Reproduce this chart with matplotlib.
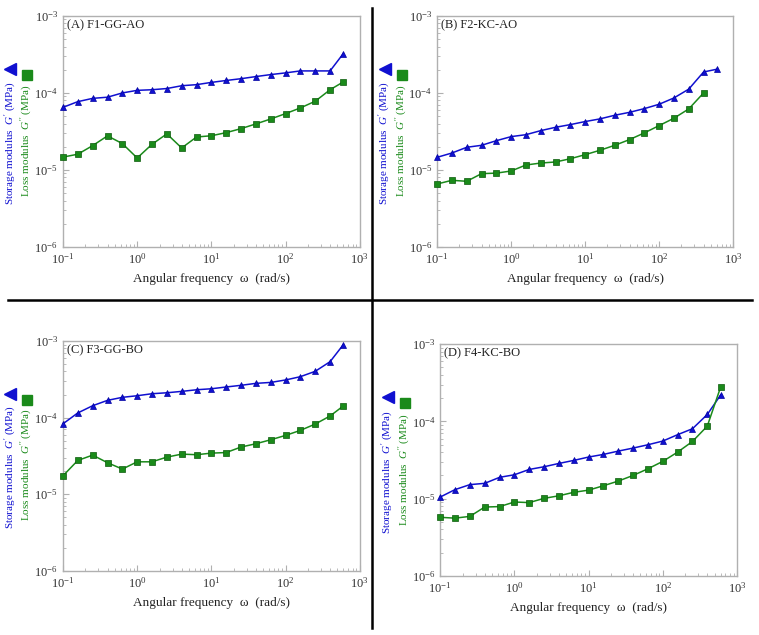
import matplotlib
matplotlib.use('Agg')
import matplotlib.pyplot as plt
from matplotlib.lines import Line2D

plt.rcParams['font.family'] = ['Liberation Serif', 'DejaVu Sans']
plt.rcParams['mathtext.fontset'] = 'custom'
plt.rcParams['mathtext.rm'] = 'Liberation Serif'
plt.rcParams['mathtext.it'] = 'Liberation Serif:italic'

# angular frequency (rad/s)
omega = [0.1, 0.158, 0.251, 0.398, 0.631, 1.0, 1.58, 2.51, 3.98, 6.31,
         10, 15.8, 25.1, 39.8, 63.1, 100, 158, 251, 398, 600]

# (A) F1-GG-AO
a_gp = [6.5e-5, 7.7e-5, 8.5e-5, 8.8e-5, 1.0e-4, 1.08e-4, 1.1e-4, 1.14e-4, 1.24e-4, 1.28e-4,
        1.37e-4, 1.45e-4, 1.53e-4, 1.63e-4, 1.73e-4, 1.82e-4, 1.93e-4, 1.93e-4, 1.93e-4, 3.24e-4]
a_gpp = [1.47e-5, 1.6e-5, 2.07e-5, 2.77e-5, 2.2e-5, 1.43e-5, 2.15e-5, 2.94e-5, 1.93e-5, 2.68e-5,
         2.78e-5, 3.05e-5, 3.44e-5, 3.96e-5, 4.59e-5, 5.39e-5, 6.38e-5, 7.8e-5, 1.1e-4, 1.39e-4]

# (B) F2-KC-AO
b_gp = [1.46e-5, 1.66e-5, 1.97e-5, 2.09e-5, 2.4e-5, 2.71e-5, 2.87e-5, 3.24e-5, 3.58e-5, 3.88e-5,
        4.25e-5, 4.6e-5, 5.13e-5, 5.6e-5, 6.26e-5, 7.13e-5, 8.6e-5, 1.12e-4, 1.87e-4, 2.03e-4]
b_gpp = [6.58e-6, 7.34e-6, 7.13e-6, 8.96e-6, 9.1e-6, 9.7e-6, 1.16e-5, 1.23e-5, 1.27e-5, 1.4e-5,
         1.58e-5, 1.8e-5, 2.09e-5, 2.48e-5, 3.03e-5, 3.77e-5, 4.69e-5, 6.2e-5, 1.0e-4]

# (C) F3-GG-BO
c_gp = [8.3e-5, 1.15e-4, 1.43e-4, 1.68e-4, 1.84e-4, 1.93e-4, 2.05e-4, 2.11e-4, 2.2e-4, 2.31e-4,
        2.38e-4, 2.51e-4, 2.64e-4, 2.8e-4, 2.88e-4, 3.1e-4, 3.42e-4, 4.02e-4, 5.37e-4, 8.95e-4]
c_gpp = [1.74e-5, 2.76e-5, 3.24e-5, 2.58e-5, 2.13e-5, 2.65e-5, 2.65e-5, 3.05e-5, 3.34e-5, 3.28e-5,
         3.44e-5, 3.5e-5, 4.13e-5, 4.56e-5, 5.14e-5, 5.86e-5, 6.81e-5, 8.24e-5, 1.05e-4, 1.42e-4]

# (D) F4-KC-BO
d_gp = [1.05e-5, 1.31e-5, 1.52e-5, 1.58e-5, 1.89e-5, 2.04e-5, 2.39e-5, 2.59e-5, 2.86e-5, 3.13e-5,
        3.46e-5, 3.74e-5, 4.13e-5, 4.52e-5, 4.99e-5, 5.57e-5, 6.73e-5, 8.04e-5, 1.23e-4, 2.19e-4]
d_gpp = [5.74e-6, 5.6e-6, 5.9e-6, 7.8e-6, 7.9e-6, 9.06e-6, 8.9e-6, 1.01e-5, 1.09e-5, 1.21e-5,
         1.29e-5, 1.47e-5, 1.69e-5, 2.0e-5, 2.44e-5, 3.04e-5, 4.0e-5, 5.5e-5, 8.7e-5, 2.76e-4]

titles = ['(A) F1-GG-AO', '(B) F2-KC-AO', '(C) F3-GG-BO', '(D) F4-KC-BO']
panels = [(a_gp, a_gpp), (b_gp, b_gpp), (c_gp, c_gpp), (d_gp, d_gpp)]

# axes rectangles [left, bottom, width, height] in figure fraction
rects = [[0.083, 0.611, 0.391, 0.364],
         [0.576, 0.611, 0.390, 0.364],
         [0.083, 0.101, 0.391, 0.362],
         [0.580, 0.093, 0.391, 0.365]]

blue = '#1010d0'
green = '#1a8a1a'

fig = plt.figure(figsize=(7.59, 6.35), dpi=100)

for rect, title, (gp, gpp) in zip(rects, titles, panels):
    ax = fig.add_axes(rect)
    ax.plot(omega[:len(gp)], gp, '-^', color=blue, lw=1.1, ms=4,
            mfc=blue, mec='#0000a0', mew=0.5, clip_on=False, zorder=3)
    ax.plot(omega[:len(gpp)], gpp, '-s', color=green, lw=1.1, ms=4.5,
            mfc=green, mec='#0b5a0b', mew=0.5, clip_on=False, zorder=3)
    ax.set_xscale('log')
    ax.set_yscale('log')
    ax.set_xlim(0.1, 1000)
    ax.set_ylim(1e-6, 1e-3)
    for s in ax.spines.values():
        s.set_color('#b0b0b0')
        s.set_linewidth(1.0)
    ax.tick_params(which='both', direction='in', colors='#b0b0b0',
                   labelcolor='#333333', labelsize=9)
    ax.tick_params(which='major', length=4)
    ax.tick_params(which='minor', length=2)
    ax.text(0.013, 0.985, title, transform=ax.transAxes, ha='left', va='top',
            fontsize=9, color='#222222')
    ax.set_xlabel('Angular frequency  ω  (rad/s)', fontsize=9.5, color='#222222',
                  labelpad=5)
    # two-colour y label with its symbols
    ax.text(-0.177, 0.45, "Storage modulus  $G'$ (MPa)", transform=ax.transAxes,
            rotation=90, ha='center', va='center', fontsize=8, color=blue)
    ax.text(-0.12, 0.46, "Loss modulus  $G''$ (MPa)", transform=ax.transAxes,
            rotation=90, ha='center', va='center', fontsize=8, color=green)
    ax.plot([-0.177], [0.77], '<', color=blue, ms=8, transform=ax.transAxes,
            clip_on=False)
    ax.plot([-0.12], [0.745], 's', color=green, ms=7.5, transform=ax.transAxes,
            clip_on=False)

# separator lines between panels
fig.add_artist(Line2D([372 / 759, 372 / 759], [1 - 8 / 635, 1 - 628 / 635],
                      transform=fig.transFigure, color='black', lw=1.8))
fig.add_artist(Line2D([8 / 759, 752 / 759], [1 - 300 / 635, 1 - 300 / 635],
                      transform=fig.transFigure, color='black', lw=1.8))

fig.savefig('out.png', dpi=100)
